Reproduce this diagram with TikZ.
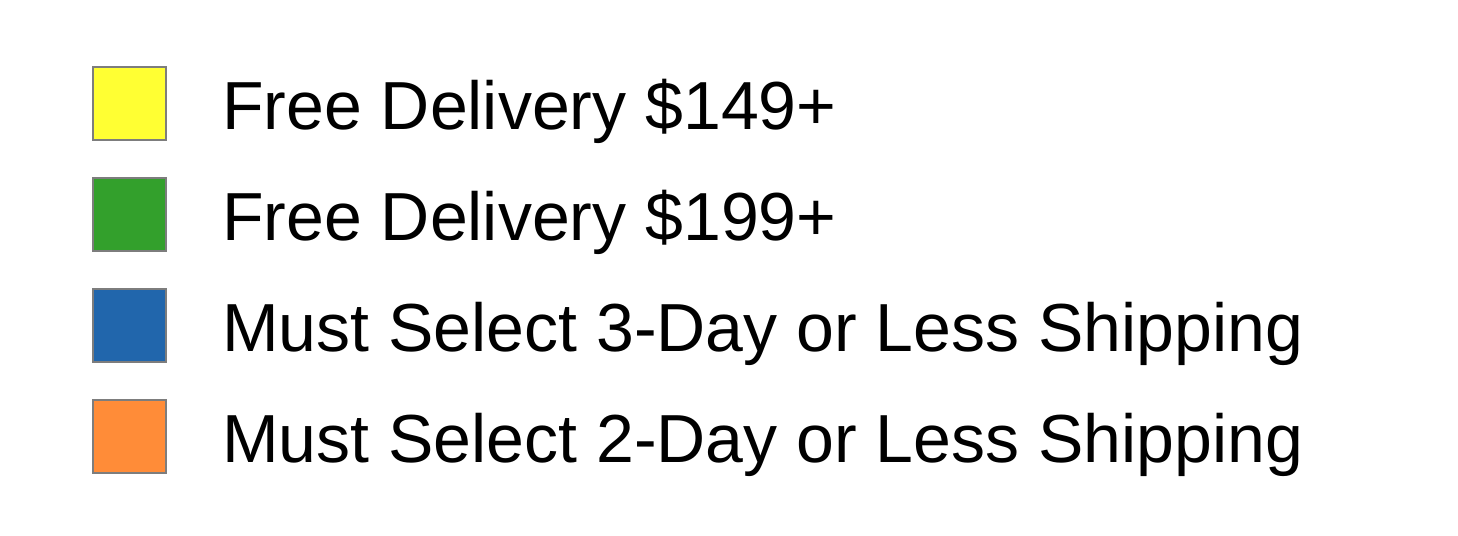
\documentclass[tikz,border=0pt]{standalone}
\usepackage{fontspec}
\setmainfont{Liberation Sans}
\usetikzlibrary{positioning}

\definecolor{legyellow}{RGB}{255,255,51}
\definecolor{leggreen}{RGB}{51,160,44}
\definecolor{legblue}{RGB}{33,102,172}
\definecolor{legorange}{RGB}{255,140,56}
\definecolor{legframe}{RGB}{125,125,125}

\tikzset{
  swatch/.style={draw=legframe, line width=0.045cm, minimum size=1.46cm, inner sep=0pt, fill=#1},
  legtext/.style={anchor=base west, inner sep=0pt, font=\fontsize{38.7}{46}\selectfont}
}

\begin{document}
\begin{tikzpicture}[x=0.02cm, y=-0.02cm]
  \useasboundingbox (0,0) rectangle (1458,536);

  \node[swatch=legyellow] (sw1) at (129.5,103.5) {};
  \node[swatch=leggreen]  (sw2) at (129.5,214.5) {};
  \node[swatch=legblue]   (sw3) at (129.5,325.5) {};
  \node[swatch=legorange] (sw4) at (129.5,436.5) {};

  \node[legtext] (lab1) at (222,130) {Free Delivery \$149+};
  \node[legtext] (lab2) at (222,241) {Free Delivery \$199+};
  \node[legtext] (lab3) at (222,352) {Must Select 3-Day or Less Shipping};
  \node[legtext] (lab4) at (222,463) {Must Select 2-Day or Less Shipping};
\end{tikzpicture}
\end{document}
